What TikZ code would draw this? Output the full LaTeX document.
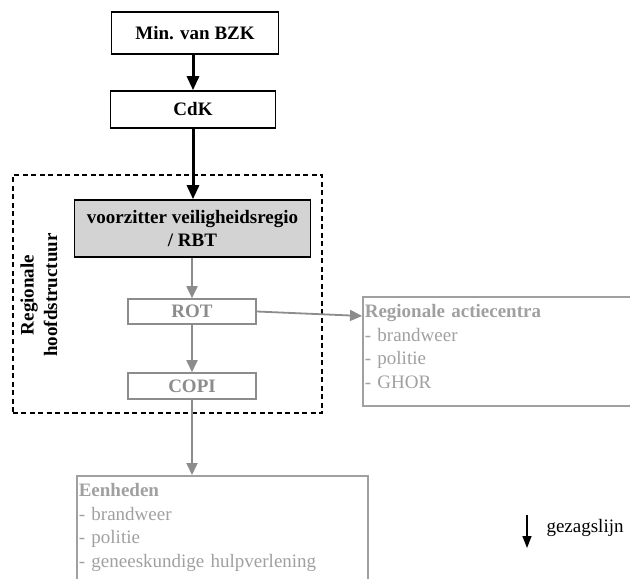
\documentclass[tikz,border=0pt]{standalone}
\usepackage{fontspec}
\setmainfont{Liberation Serif}
\usepackage{tikz}
\usetikzlibrary{arrows.meta,positioning}
\usepackage{xcolor}

\definecolor{lijngrijs}{RGB}{140,140,140}
\definecolor{tekstgrijs}{RGB}{160,160,160}
\definecolor{vulgrijs}{RGB}{211,211,211}
\newcommand{\groot}{\fontsize{19bp}{23.5bp}\selectfont}

\begin{document}
\begin{tikzpicture}[x=1bp,y=-1bp,
    zwart/.style={draw,line width=1.6bp,inner sep=0pt,font=\groot\bfseries},
    grijs/.style={draw=lijngrijs,line width=1.6bp,inner sep=0pt,text=lijngrijs,font=\groot\bfseries},
    lijst/.style={draw=tekstgrijs,line width=1.6bp,anchor=north west,align=left,inner xsep=2bp,inner ysep=8bp,text=tekstgrijs,font=\groot},
    gezag/.style={-{Triangle[width=12bp,length=14bp]},line width=3bp},
    lijn/.style={-{Triangle[width=11bp,length=12bp]},line width=1.8bp,draw=lijngrijs,color=lijngrijs}]

    \clip (0,0) rectangle (630,579);

    % Landelijk niveau
    \node[zwart,minimum width=167bp,minimum height=42bp] (bzk) at (195,33) {Min. van BZK};
    \node[zwart,minimum width=165bp,minimum height=37bp] (cdk) at (193,109.5) {CdK};

    % Regionale hoofdstructuur
    \node[draw,dash pattern=on 5bp off 3.5bp,line width=1.6bp,minimum width=309bp,minimum height=238bp] (regio) at (167.5,294) {};
    \node[font=\groot\bfseries,rotate=90,align=center] (regiolabel) at (39,295) {Regionale\\hoofdstructuur};
    \node[zwart,fill=vulgrijs,align=center,minimum width=236bp,minimum height=57bp] (vr) at (192.5,228.5) {voorzitter veiligheidsregio\\/ RBT};
    \node[grijs,minimum width=128bp,minimum height=25bp] (rot) at (192,311.5) {ROT};
    \node[grijs,minimum width=128bp,minimum height=26bp] (copi) at (192,386) {COPI};

    % Uitvoering
    \node[lijst,text width=276bp,text depth=80bp] (rac) at (362,296) {
        \textbf{Regionale actiecentra}\\
        - brandweer\\
        - politie\\
        - GHOR};
    \node[lijst,text width=287bp,text depth=110bp] (een) at (76,475) {
        \textbf{Eenheden}\\
        - brandweer\\
        - politie\\
        - geneeskundige hulpverlening};

    % Arrows
    \draw[gezag] (bzk.south -| cdk.north) -- (cdk.north);
    \draw[gezag] (cdk) -- (cdk.south |- vr.north);
    \draw[lijn] (vr.south -| rot.north) -- (rot);
    \draw[lijn] (rot) -- (copi);
    \draw[lijn] (rot.east) -- ([yshift=-20bp]rac.north west);
    \draw[lijn] (copi) -- (copi.south |- een.north);

    % Legenda
    \coordinate (legtop) at (527,515);
    \coordinate (legbot) at (527,548);
    \draw[-{Triangle[width=9bp,length=12bp]},line width=1.5bp] (legtop) -- (legbot);
    \node[anchor=west,font=\groot] (legenda) at (543,528) {gezagslijn};
\end{tikzpicture}
\end{document}
